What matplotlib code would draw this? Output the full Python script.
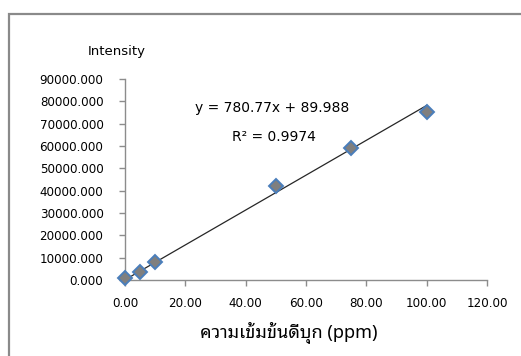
import numpy as np
import matplotlib
matplotlib.use("Agg")
import matplotlib.pyplot as plt
from matplotlib.patches import Rectangle
from matplotlib.ticker import FormatStrFormatter

# ข้อมูลกราฟมาตรฐาน
conc = [0, 5, 10, 50, 75, 100]                      # ppm
intensity = [900, 3600, 8100, 41900, 59000, 75200]  # intensity
slope = 780.77
intercept = 89.988
r2 = 0.9974

xticks = [0, 20, 40, 60, 80, 100, 120]
yticks = [0, 10000, 20000, 30000, 40000, 50000, 60000, 70000, 80000, 90000]

plt.rcParams['font.family'] = ['DejaVu Sans', 'Noto Sans Thai Looped']
thai = ['Noto Sans Thai Looped', 'DejaVu Sans']

fig = plt.figure(figsize=(5.21, 3.56), dpi=100)
ax = fig.add_axes([125 / 521, 1 - 280 / 356, (487 - 125) / 521, (280 - 79) / 356])

# กรอบของแผนภูมิ
fig.patches.append(Rectangle((9 / 521, -0.1), 1.2, 1 - 14 / 356 + 0.1,
                             transform=fig.transFigure, fill=False,
                             edgecolor='#8a8a8a', linewidth=1.6))

# trendline
xl = np.array([0, 100])
ax.plot(xl, slope * xl + intercept, color='#262626', linewidth=0.9, zorder=2)
ax.plot(conc, intensity, linestyle='none', marker='D', markersize=7.2,
        markerfacecolor='#7f7f7f', markeredgecolor='#4a7ebb',
        markeredgewidth=1.4, zorder=3, clip_on=False)

ax.set_xlim(0, 120)
ax.set_ylim(0, 90000)
ax.set_xticks(xticks)
ax.set_yticks(yticks)
ax.xaxis.set_major_formatter(FormatStrFormatter('%.2f'))
ax.yaxis.set_major_formatter(FormatStrFormatter('%.3f'))

for s in ['top', 'right']:
    ax.spines[s].set_visible(False)
for s in ['left', 'bottom']:
    ax.spines[s].set_color('#8c8c8c')
    ax.spines[s].set_linewidth(1.0)
ax.tick_params(direction='out', length=4, width=1.0, color='#8c8c8c',
               labelsize=8.6, labelcolor='black')
ax.tick_params(axis='x', pad=8)
ax.tick_params(axis='y', pad=11.5)

fig.text(117 / 521, 1 - 52 / 356, 'Intensity', ha='center', va='center', fontsize=9.5)
fig.text(195 / 521, 1 - 108 / 356, 'y = 780.77x + 89.988',
         ha='left', va='center', fontsize=10)
fig.text(232 / 521, 1 - 137 / 356, 'R² = %.4f' % r2,
         ha='left', va='center', fontsize=10)
fig.text(289 / 521, 1 - 333 / 356, 'ความเข้มข้นดีบุก (ppm)', ha='center',
         va='center', fontsize=13, family=thai)

fig.savefig('out.png')
